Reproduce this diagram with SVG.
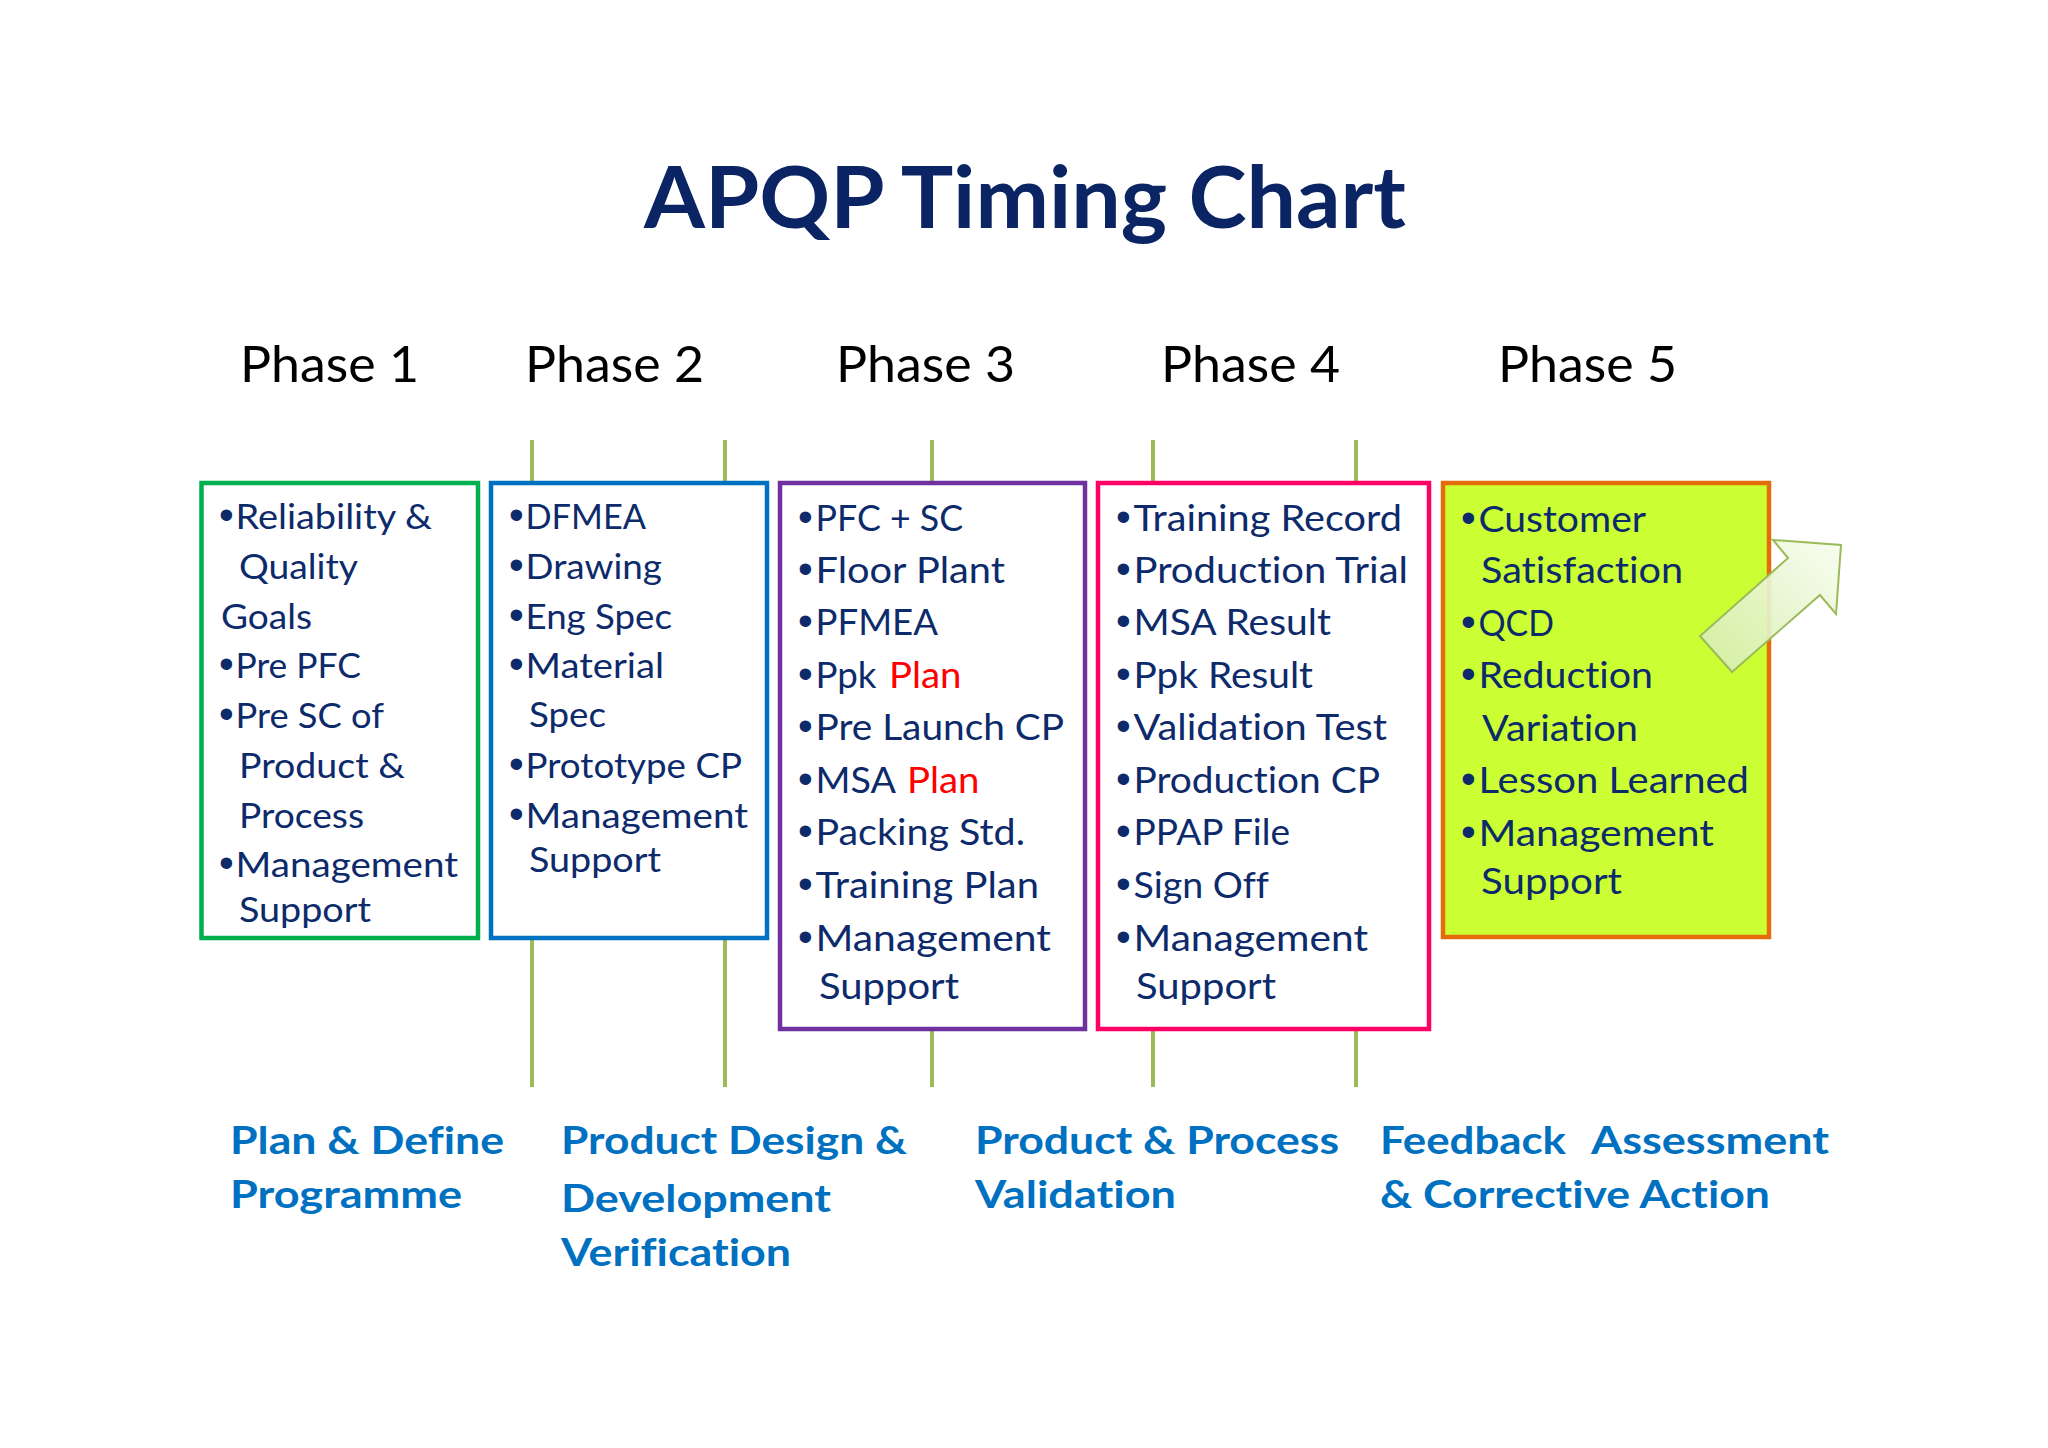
<svg xmlns="http://www.w3.org/2000/svg" width="2048" height="1448" viewBox="0 0 2048 1448">
<defs>
<style>
text{font-variant-ligatures:none}
.title{font-family:Lato,"Liberation Sans",sans-serif;font-weight:bold;font-size:87px;fill:#0a2464}
.phase{font-family:Lato,"Liberation Sans",sans-serif;font-size:51px;fill:#000}
.box{stroke-width:4.5;fill:#fff}
.t1{font-family:Lato,"Liberation Sans",sans-serif;font-size:34px;fill:#0d2a6b}
.t2{font-family:Lato,"Liberation Sans",sans-serif;font-size:36px;fill:#0d2a6b}
.b{font-family:"Liberation Sans",sans-serif;font-size:42px}
.red{fill:#ff0000}
.lbl{font-family:Lato,"Liberation Sans",sans-serif;font-weight:bold;font-size:38px;fill:#0070c0}
.tl{stroke:#9bbb59;stroke-width:4;fill:none}
</style>
<linearGradient id="arrowGrad" x1="0" y1="1" x2="1" y2="0">
<stop offset="0" stop-color="#d4ecaa"/>
<stop offset="1" stop-color="#f8fdf0"/>
</linearGradient>
</defs>
<rect x="0" y="0" width="2048" height="1448" fill="#fff"/>

<g id="title"><text class="title" x="644" y="228" textLength="762" lengthAdjust="spacingAndGlyphs">APQP Timing Chart</text></g>

<g id="phase-labels">
<text class="phase" x="240" y="382" textLength="179" lengthAdjust="spacingAndGlyphs">Phase 1</text>
<text class="phase" x="525" y="382" textLength="179" lengthAdjust="spacingAndGlyphs">Phase 2</text>
<text class="phase" x="836" y="382" textLength="179" lengthAdjust="spacingAndGlyphs">Phase 3</text>
<text class="phase" x="1161" y="382" textLength="179" lengthAdjust="spacingAndGlyphs">Phase 4</text>
<text class="phase" x="1498" y="382" textLength="179" lengthAdjust="spacingAndGlyphs">Phase 5</text>
</g>

<g id="connectors">
<line class="tl" x1="532" y1="440" x2="532" y2="1087"/>
<line class="tl" x1="725" y1="440" x2="725" y2="1087"/>
<line class="tl" x1="932" y1="440" x2="932" y2="1087"/>
<line class="tl" x1="1153" y1="440" x2="1153" y2="1087"/>
<line class="tl" x1="1356" y1="440" x2="1356" y2="1087"/>
</g>

<g id="phase1-box">
<rect class="box" x="201.5" y="483" width="276.5" height="455" stroke="#00b050"/>
<text class="t1" y="529"><tspan class="b" x="219">•</tspan><tspan x="235.5" textLength="196.5" lengthAdjust="spacingAndGlyphs">Reliability &amp;</tspan></text>
<text class="t1" x="239" y="579" textLength="119" lengthAdjust="spacingAndGlyphs">Quality</text>
<text class="t1" x="221" y="629" textLength="91" lengthAdjust="spacingAndGlyphs">Goals</text>
<text class="t1" y="678"><tspan class="b" x="219">•</tspan><tspan x="235.5" textLength="125.5" lengthAdjust="spacingAndGlyphs">Pre PFC</tspan></text>
<text class="t1" y="728"><tspan class="b" x="219">•</tspan><tspan x="235.5" textLength="148.5" lengthAdjust="spacingAndGlyphs">Pre SC of</tspan></text>
<text class="t1" x="239" y="778" textLength="166" lengthAdjust="spacingAndGlyphs">Product &amp;</text>
<text class="t1" x="239" y="828" textLength="125" lengthAdjust="spacingAndGlyphs">Process</text>
<text class="t1" y="877"><tspan class="b" x="219">•</tspan><tspan x="235.5" textLength="222.5" lengthAdjust="spacingAndGlyphs">Management</tspan></text>
<text class="t1" x="239" y="922" textLength="132" lengthAdjust="spacingAndGlyphs">Support</text>
</g>

<g id="phase2-box">
<rect class="box" x="491" y="483" width="276" height="455" stroke="#0070c0"/>
<text class="t1" y="529"><tspan class="b" x="509">•</tspan><tspan x="525.5" textLength="120.5" lengthAdjust="spacingAndGlyphs">DFMEA</tspan></text>
<text class="t1" y="579"><tspan class="b" x="509">•</tspan><tspan x="525.5" textLength="136.5" lengthAdjust="spacingAndGlyphs">Drawing</tspan></text>
<text class="t1" y="629"><tspan class="b" x="509">•</tspan><tspan x="525.5" textLength="146.5" lengthAdjust="spacingAndGlyphs">Eng Spec</tspan></text>
<text class="t1" y="678"><tspan class="b" x="509">•</tspan><tspan x="525.5" textLength="138.5" lengthAdjust="spacingAndGlyphs">Material</tspan></text>
<text class="t1" x="529" y="727" textLength="77" lengthAdjust="spacingAndGlyphs">Spec</text>
<text class="t1" y="778"><tspan class="b" x="509">•</tspan><tspan x="525.5" textLength="216.5" lengthAdjust="spacingAndGlyphs">Prototype CP</tspan></text>
<text class="t1" y="828"><tspan class="b" x="509">•</tspan><tspan x="525.5" textLength="222.5" lengthAdjust="spacingAndGlyphs">Management</tspan></text>
<text class="t1" x="529" y="872" textLength="132" lengthAdjust="spacingAndGlyphs">Support</text>
</g>

<g id="phase3-box">
<rect class="box" x="780" y="483" width="305" height="546" stroke="#7030a0"/>
<text class="t2" y="531"><tspan class="b" x="798">•</tspan><tspan x="815.5" textLength="147.5" lengthAdjust="spacingAndGlyphs">PFC + SC</tspan></text>
<text class="t2" y="583"><tspan class="b" x="798">•</tspan><tspan x="815.5" textLength="189.5" lengthAdjust="spacingAndGlyphs">Floor Plant</tspan></text>
<text class="t2" y="635"><tspan class="b" x="798">•</tspan><tspan x="815.5" textLength="122.5" lengthAdjust="spacingAndGlyphs">PFMEA</tspan></text>
<text class="t2" y="688"><tspan class="b" x="798">•</tspan><tspan x="815.5" textLength="61" lengthAdjust="spacingAndGlyphs">Ppk</tspan><tspan class="red" x="889" textLength="72.5" lengthAdjust="spacingAndGlyphs">Plan</tspan></text>
<text class="t2" y="740"><tspan class="b" x="798">•</tspan><tspan x="815.5" textLength="248.5" lengthAdjust="spacingAndGlyphs">Pre Launch CP</tspan></text>
<text class="t2" y="793"><tspan class="b" x="798">•</tspan><tspan x="815.5" textLength="80.5" lengthAdjust="spacingAndGlyphs">MSA</tspan><tspan class="red" x="907" textLength="72.5" lengthAdjust="spacingAndGlyphs">Plan</tspan></text>
<text class="t2" y="845"><tspan class="b" x="798">•</tspan><tspan x="815.5" textLength="209.5" lengthAdjust="spacingAndGlyphs">Packing Std.</tspan></text>
<text class="t2" y="898"><tspan class="b" x="798">•</tspan><tspan x="815.5" textLength="223.5" lengthAdjust="spacingAndGlyphs">Training Plan</tspan></text>
<text class="t2" y="951"><tspan class="b" x="798">•</tspan><tspan x="815.5" textLength="235.5" lengthAdjust="spacingAndGlyphs">Management</tspan></text>
<text class="t2" x="819" y="999" textLength="140" lengthAdjust="spacingAndGlyphs">Support</text>
</g>

<g id="phase4-box">
<rect class="box" x="1098" y="483" width="331" height="546" stroke="#ff0066"/>
<text class="t2" y="531"><tspan class="b" x="1116">•</tspan><tspan x="1133.5" textLength="268.5" lengthAdjust="spacingAndGlyphs">Training Record</tspan></text>
<text class="t2" y="583"><tspan class="b" x="1116">•</tspan><tspan x="1133.5" textLength="274.5" lengthAdjust="spacingAndGlyphs">Production Trial</tspan></text>
<text class="t2" y="635"><tspan class="b" x="1116">•</tspan><tspan x="1133.5" textLength="197.5" lengthAdjust="spacingAndGlyphs">MSA Result</tspan></text>
<text class="t2" y="688"><tspan class="b" x="1116">•</tspan><tspan x="1133.5" textLength="179.5" lengthAdjust="spacingAndGlyphs">Ppk Result</tspan></text>
<text class="t2" y="740"><tspan class="b" x="1116">•</tspan><tspan x="1133.5" textLength="253.5" lengthAdjust="spacingAndGlyphs">Validation Test</tspan></text>
<text class="t2" y="793"><tspan class="b" x="1116">•</tspan><tspan x="1133.5" textLength="246.5" lengthAdjust="spacingAndGlyphs">Production CP</tspan></text>
<text class="t2" y="845"><tspan class="b" x="1116">•</tspan><tspan x="1133.5" textLength="156.5" lengthAdjust="spacingAndGlyphs">PPAP File</tspan></text>
<text class="t2" y="898"><tspan class="b" x="1116">•</tspan><tspan x="1133.5" textLength="135.5" lengthAdjust="spacingAndGlyphs">Sign Off</tspan></text>
<text class="t2" y="951"><tspan class="b" x="1116">•</tspan><tspan x="1133.5" textLength="234.5" lengthAdjust="spacingAndGlyphs">Management</tspan></text>
<text class="t2" x="1136" y="999" textLength="140" lengthAdjust="spacingAndGlyphs">Support</text>
</g>

<g id="phase5-box">
<rect x="1443" y="483" width="326" height="454" stroke="#e46c0a" stroke-width="4.5" fill="#ccff33"/>
<text class="t2" y="532"><tspan class="b" x="1461">•</tspan><tspan x="1478.5" textLength="167.5" lengthAdjust="spacingAndGlyphs">Customer</tspan></text>
<text class="t2" x="1481" y="583" textLength="202" lengthAdjust="spacingAndGlyphs">Satisfaction</text>
<text class="t2" y="636"><tspan class="b" x="1461">•</tspan><tspan x="1478.5" textLength="75.5" lengthAdjust="spacingAndGlyphs">QCD</tspan></text>
<text class="t2" y="688"><tspan class="b" x="1461">•</tspan><tspan x="1478.5" textLength="174.5" lengthAdjust="spacingAndGlyphs">Reduction</tspan></text>
<text class="t2" x="1482" y="741" textLength="156" lengthAdjust="spacingAndGlyphs">Variation</text>
<text class="t2" y="793"><tspan class="b" x="1461">•</tspan><tspan x="1478.5" textLength="270.5" lengthAdjust="spacingAndGlyphs">Lesson Learned</tspan></text>
<text class="t2" y="846"><tspan class="b" x="1461">•</tspan><tspan x="1478.5" textLength="235.5" lengthAdjust="spacingAndGlyphs">Management</tspan></text>
<text class="t2" x="1481" y="894" textLength="141" lengthAdjust="spacingAndGlyphs">Support</text>
</g>

<g id="feedback-arrow">
<polygon points="1700,636 1732,672 1820,595 1836,614 1841,545 1773,540 1788,558" fill="url(#arrowGrad)" fill-opacity="0.92" stroke="#9bbb59" stroke-width="2" stroke-linejoin="miter"/>
</g>

<g id="stage-labels">
<text class="lbl" x="230" y="1154" textLength="274" lengthAdjust="spacingAndGlyphs">Plan &amp; Define</text>
<text class="lbl" x="230" y="1208" textLength="232" lengthAdjust="spacingAndGlyphs">Programme</text>
<text class="lbl" x="561" y="1154" textLength="346" lengthAdjust="spacingAndGlyphs">Product Design &amp;</text>
<text class="lbl" x="561" y="1212" textLength="270" lengthAdjust="spacingAndGlyphs">Development</text>
<text class="lbl" x="561" y="1266" textLength="230" lengthAdjust="spacingAndGlyphs">Verification</text>
<text class="lbl" x="975" y="1154" textLength="364" lengthAdjust="spacingAndGlyphs">Product &amp; Process</text>
<text class="lbl" x="975" y="1208" textLength="201" lengthAdjust="spacingAndGlyphs">Validation</text>
<text class="lbl" y="1154"><tspan x="1380" textLength="186" lengthAdjust="spacingAndGlyphs">Feedback</tspan><tspan x="1591" textLength="238" lengthAdjust="spacingAndGlyphs">Assessment</tspan></text>
<text class="lbl" x="1380" y="1208" textLength="390" lengthAdjust="spacingAndGlyphs">&amp; Corrective Action</text>
</g>
</svg>
